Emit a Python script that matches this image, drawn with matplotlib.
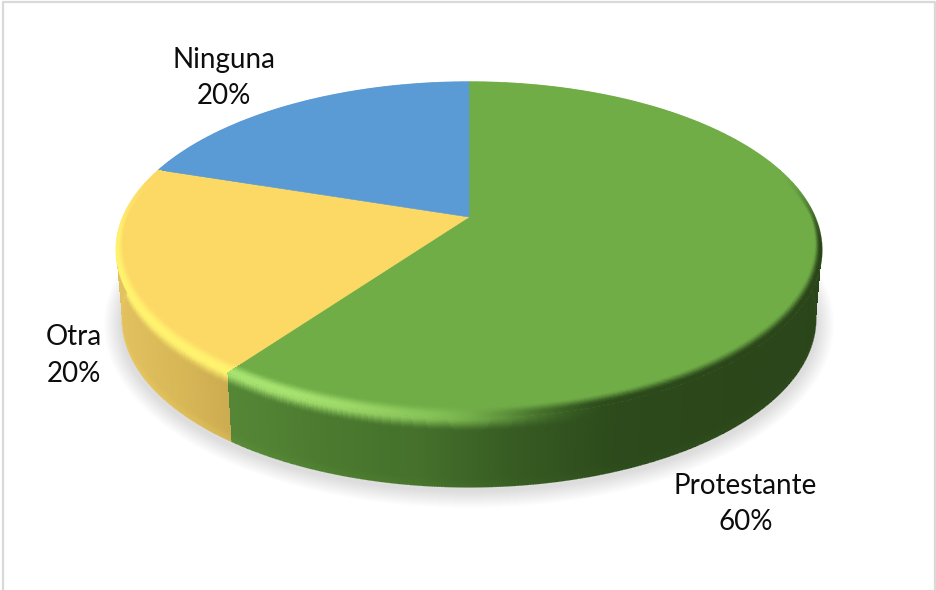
import numpy as np
import matplotlib
matplotlib.use("Agg")
import matplotlib.pyplot as plt
from matplotlib.collections import LineCollection
from matplotlib.colors import to_rgb
from matplotlib.patches import Polygon

# ---- data
categories = ["Protestante", "Otra", "Ninguna"]
values = [60, 20, 20]
top_colors = ["#70AD47", "#FCD865", "#5B9BD5"]
label_positions = [(745.5, 504), (73.5, 355.5), (223.5, 78)]

# ---- geometry of the tilted disc, in pixels
CX, CY = 469.0, 217.0
A, B, K = 346.0, 161.5, 0.196
A_LOW, DEPTH = 340.0, 69.0
BAND = 0.05


def project(theta, r=1.0, depth=0.0, a=A):
    x_unit, y_unit = r * np.sin(theta), r * np.cos(theta)
    w = 1 + K * y_unit
    return CX + a * x_unit / w, CY + depth - B * y_unit / w


def smooth(t):
    t = np.clip(t, 0, 1)
    return t * t * (3 - 2 * t)


def rgb_ramp(x, stops, cols):
    c = np.array([to_rgb(k) for k in cols])
    return np.stack([np.interp(x, stops, c[:, i]) for i in range(3)], axis=-1)


wall_styles = {
    "Protestante": ([231, 330, 420, 520, 620, 830],
                    ["#558636", "#4b7a2f", "#44702b", "#365a22", "#2c4a1b", "#2b451a"],
                    "#A6E26F"),
    "Otra": ([110, 170, 240], ["#E3C361", "#D9B957", "#C9A94F"], "#FFF26E"),
    "Ninguna": ([100, 900], ["#3F6E9B", "#3F6E9B"], "#9CC9F0"),
}

fig = plt.figure(figsize=(9.36, 5.9), dpi=100)
ax = fig.add_axes([0, 0, 1, 1])
ax.set_xlim(0, 936)
ax.set_ylim(590, 0)
ax.axis("off")

plt.rcParams["font.family"] = ["Lato", "DejaVu Sans"]

# chart frame
ax.plot([2.5, 2.5, 935, 935], [592, 1.5, 1.5, 592], color="#D9D9D9", lw=1.6, zorder=1)

# soft shadow beneath the disc
full = np.linspace(0, 2 * np.pi, 361)
for d in np.linspace(16, 0, 17):
    sx, sy = project(full, depth=DEPTH + 5, a=A_LOW + 2)
    sx = CX + (sx - CX) * (1 + d / 340)
    sy = (CY + DEPTH + 30) + (sy - (CY + DEPTH + 30)) * (1 + d / 175)
    ax.add_patch(Polygon(np.c_[sx, sy], closed=True, fc="black", ec="none",
                         alpha=0.0085, zorder=2))

# slice angles, clockwise from twelve o'clock
edges = np.cumsum([0] + values) / np.sum(values) * 2 * np.pi

for i, name in enumerate(categories):
    th0, th1 = edges[i], edges[i + 1]
    n_th = max(int((th1 - th0) / 0.004), 8)
    th = np.linspace(th0, th1, n_th + 1)
    th_mid = (th[:-1] + th[1:]) / 2
    stops, cols, high = wall_styles[name]
    top = np.array(to_rgb(top_colors[i]))
    hi = np.array(to_rgb(high))

    # ---- side wall (with the lower part of the bevel)
    n_s = 70
    s = np.linspace(0, 1, n_s + 1)
    s_mid = (s[:-1] + s[1:]) / 2
    TH, S = np.meshgrid(th, s)
    a_s = A + (A_LOW - A) * S
    X, Y = project(TH, depth=DEPTH * S, a=a_s)
    xm, _ = project(th_mid)
    wall = rgb_ramp(xm, stops, cols)
    light = (1 - smooth((xm - 270) / 280))[:, None]
    dark = smooth((xm - 420) / 190)[:, None]
    rim = light * hi + (1 - light) * (top * (1 - dark) + wall * dark)
    fall = smooth(s_mid / 0.2)[:, None, None]
    C = rim[None, :, :] * (1 - fall) + wall[None, :, :] * fall
    # faint reflected light along the lower edge
    refl = smooth((s_mid - 0.86) / 0.14)[:, None, None] * 0.35
    bottom_col = (top * 0.55 + wall * 0.45)[None, :, :] if name != "Protestante" else wall[None, :, :] * 1.12
    C = C * (1 - refl) + bottom_col * refl
    ax.pcolormesh(X, Y, np.clip(C, 0, 1), shading="flat", antialiased=False,
                  zorder=3 + i * 0.01)
    # smooth lower edge
    lx, ly = project(th, depth=DEPTH, a=A_LOW)
    segs = np.stack([np.c_[lx[:-1], ly[:-1]], np.c_[lx[1:], ly[1:]]], axis=1)
    ax.add_collection(LineCollection(segs, colors=np.clip(C[-1], 0, 1), lw=1.0, zorder=3.5))

    # ---- flat top of the slice
    ex, ey = project(th)
    ax.add_patch(Polygon(np.r_[[[CX, CY]], np.c_[ex, ey]], closed=True,
                         fc=top_colors[i], ec=top_colors[i], lw=0.4, zorder=5))

    # ---- inner part of the bevel on the top face (narrower at the sides)
    n_r = 20
    v = np.linspace(0, 1, n_r + 1)
    v_mid = (v[:-1] + v[1:]) / 2
    TH, V = np.meshgrid(th, v)
    R = 1 - BAND * (0.3 + 0.7 * np.abs(np.cos(TH))) * (1 - V)
    X, Y = project(TH, r=R)
    front = smooth((0.3 - np.cos(th_mid)) / 0.5)[None, :, None]
    rise = smooth(v_mid / 0.8)[:, None, None]
    C = top * (1 - rise * front) + rim[None, :, :] * rise * front
    ax.pcolormesh(X, Y, np.clip(C, 0, 1), shading="flat", antialiased=False, zorder=6)
    segs = np.stack([np.c_[ex[:-1], ey[:-1]], np.c_[ex[1:], ey[1:]]], axis=1)
    ax.add_collection(LineCollection(segs, colors=np.clip(C[-1], 0, 1), lw=0.9, zorder=6.5))

# labels
for name, v_, (tx, ty) in zip(categories, values, label_positions):
    ax.text(tx, ty, f"{name}\n{v_}%", ha="center", va="center", fontsize=20,
            color="#0D0D0D", linespacing=1.5, zorder=10)

fig.savefig("out.png", dpi=100)
